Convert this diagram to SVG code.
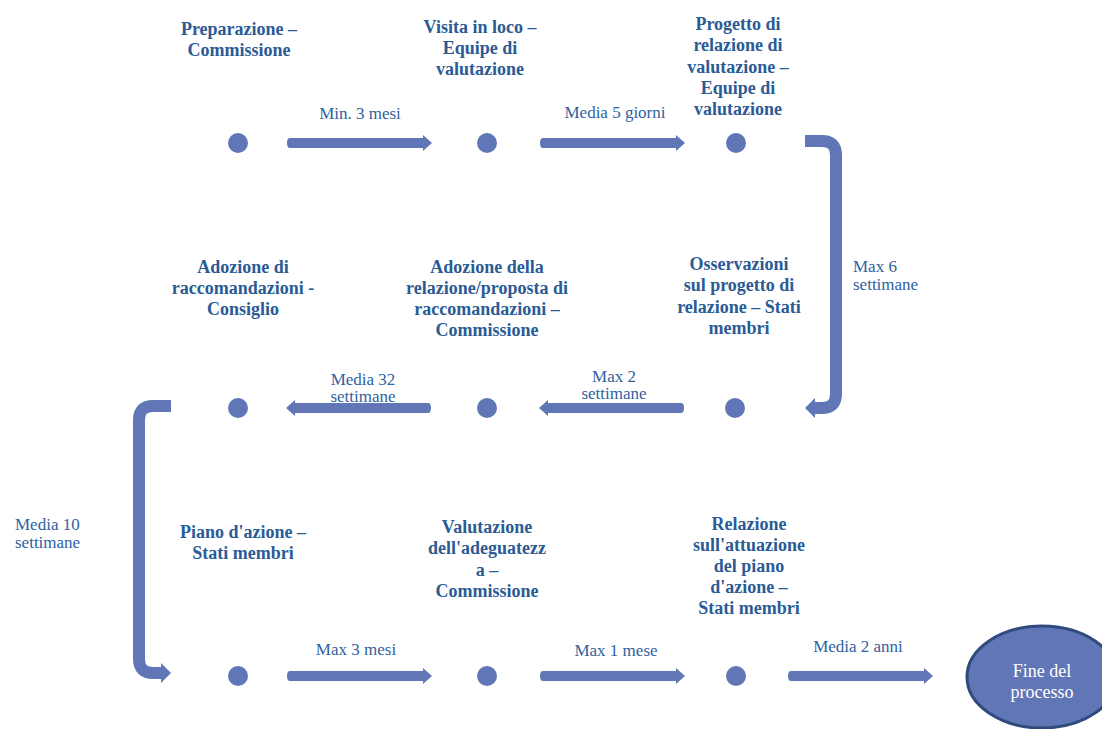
<svg xmlns="http://www.w3.org/2000/svg" xmlns:xlink="http://www.w3.org/1999/xlink" width="1102" height="729" viewBox="0 0 1102 729">
<defs>
<style>
.t{font-family:"Liberation Serif","Times New Roman",serif;font-weight:bold;font-size:18px;fill:#2a5b95;text-anchor:middle}
.l{font-family:"Liberation Serif","Times New Roman",serif;font-size:17px;fill:#2f62a0}
.c{text-anchor:middle}
.dot{fill:#6176b6}
.shape{fill:#6176b6}
.bend{fill:none;stroke:#6176b6;stroke-width:12}
.end{fill:#6176b6;stroke:#2f4b7e;stroke-width:3}
.et{font-family:"Liberation Serif","Times New Roman",serif;font-size:18px;fill:#ffffff;text-anchor:middle}
</style>
<path id="arr" d="M3,-5 H136 V-8 L145,0 L136,8 V5 H3 Q0,5 0,0 Q0,-5 3,-5 Z"/>
</defs>
<rect width="1102" height="729" fill="#ffffff"/>

<g id="connectors" class="shape">
<use xlink:href="#arr" href="#arr" transform="translate(287,143)"/>
<use xlink:href="#arr" href="#arr" transform="translate(540,143)"/>
<use xlink:href="#arr" href="#arr" transform="translate(684,408) scale(-1,1)"/>
<use xlink:href="#arr" href="#arr" transform="translate(431,408) scale(-1,1)"/>
<use xlink:href="#arr" href="#arr" transform="translate(287,676)"/>
<use xlink:href="#arr" href="#arr" transform="translate(540,676)"/>
<use xlink:href="#arr" href="#arr" transform="translate(788,676)"/>
<path class="bend" d="M805,141 H822 Q836,141 836,155 V394 Q836,408 822,408 H814"/>
<polygon points="805,408 815,398 815,418"/>
<path class="bend" d="M171,406 H153 Q139,406 139,420 V659 Q139,673 153,673 H162"/>
<polygon points="171,673 161,663 161,683"/>
<text class="l c" x="360" y="119">Min. 3 mesi</text>
<text class="l c" x="615" y="118">Media 5 giorni</text>
<text class="l" x="853" y="272">Max 6</text>
<text class="l" x="853" y="290">settimane</text>
<text class="l c" x="614" y="382">Max 2</text>
<text class="l c" x="614" y="399">settimane</text>
<text class="l c" x="363" y="385">Media 32</text>
<text class="l c" x="363" y="402">settimane</text>
<text class="l" x="15" y="530">Media 10</text>
<text class="l" x="15" y="548">settimane</text>
<text class="l c" x="356" y="655">Max 3 mesi</text>
<text class="l c" x="616" y="656">Max 1 mese</text>
<text class="l c" x="858" y="652">Media 2 anni</text>
</g>

<g id="n1"><circle class="dot" cx="238" cy="143" r="10"/>
<text class="t" x="239"><tspan x="239" y="35">Preparazione –</tspan><tspan x="239" y="56">Commissione</tspan></text></g>
<g id="n2"><circle class="dot" cx="487" cy="143" r="10"/>
<text class="t" x="480"><tspan x="480" y="33">Visita in loco –</tspan><tspan x="480" y="54">Equipe di</tspan><tspan x="480" y="75">valutazione</tspan></text></g>
<g id="n3"><circle class="dot" cx="736" cy="143" r="10"/>
<text class="t" x="738"><tspan x="738" y="30">Progetto di</tspan><tspan x="738" y="51">relazione di</tspan><tspan x="738" y="73">valutazione –</tspan><tspan x="738" y="94">Equipe di</tspan><tspan x="738" y="115">valutazione</tspan></text></g>
<g id="n4"><circle class="dot" cx="735" cy="408" r="10"/>
<text class="t" x="739"><tspan x="739" y="270">Osservazioni</tspan><tspan x="739" y="291">sul progetto di</tspan><tspan x="739" y="313">relazione – Stati</tspan><tspan x="739" y="334">membri</tspan></text></g>
<g id="n5"><circle class="dot" cx="487" cy="408" r="10"/>
<text class="t" x="487"><tspan x="487" y="273">Adozione della</tspan><tspan x="487" y="294">relazione/proposta di</tspan><tspan x="487" y="315">raccomandazioni –</tspan><tspan x="487" y="336">Commissione</tspan></text></g>
<g id="n6"><circle class="dot" cx="238" cy="408" r="10"/>
<text class="t" x="243"><tspan x="243" y="273">Adozione di</tspan><tspan x="243" y="294">raccomandazioni -</tspan><tspan x="243" y="315">Consiglio</tspan></text></g>
<g id="n7"><circle class="dot" cx="238" cy="676" r="10"/>
<text class="t" x="243"><tspan x="243" y="538">Piano d'azione –</tspan><tspan x="243" y="559">Stati membri</tspan></text></g>
<g id="n8"><circle class="dot" cx="487" cy="676" r="10"/>
<text class="t" x="487"><tspan x="487" y="533">Valutazione</tspan><tspan x="487" y="554">dell'adeguatezz</tspan><tspan x="487" y="576">a –</tspan><tspan x="487" y="597">Commissione</tspan></text></g>
<g id="n9"><circle class="dot" cx="736" cy="676" r="10"/>
<text class="t" x="749"><tspan x="749" y="530">Relazione</tspan><tspan x="749" y="551">sull'attuazione</tspan><tspan x="749" y="572">del piano</tspan><tspan x="749" y="593">d'azione –</tspan><tspan x="749" y="614">Stati membri</tspan></text></g>
<g id="n10"><ellipse class="end" cx="1042" cy="677" rx="75" ry="51"/>
<text class="et"><tspan x="1042" y="677">Fine del</tspan><tspan x="1042" y="698">processo</tspan></text></g>
</svg>
